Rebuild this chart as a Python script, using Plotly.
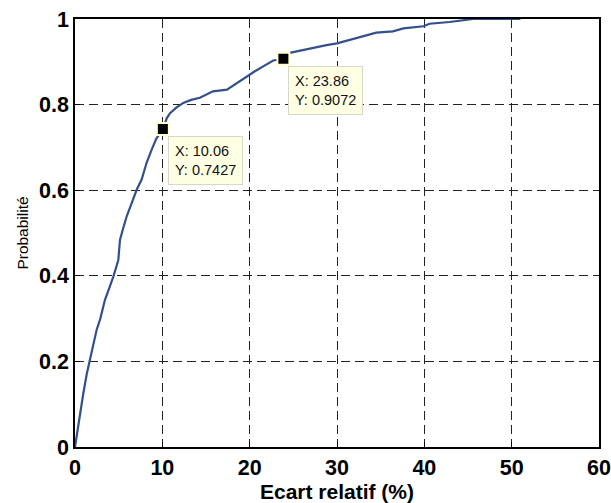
import plotly.graph_objects as go

# Empirical cumulative distribution of the relative deviation
ecart = [0, 0.25, 0.57, 0.95, 1.34, 1.7, 2.1, 2.48, 2.9, 3.43, 3.9, 4.39, 4.96, 5.15,
         5.5, 5.92, 6.49, 7.06, 7.63, 8.2, 8.78, 9.3, 10.06, 10.5, 10.88, 11.6,
         12.4, 13.3, 14.3, 15.8, 17.4, 18.5, 19.66, 20.6, 21.6, 22.7, 23.86, 24.6,
         25.8, 26.9, 28.8, 30.0, 31.2, 32.3, 33.4, 34.5, 36.4, 37.6, 39.9, 40.6,
         42.9, 44.5, 45.6, 51.0]
proba = [0, 0.035, 0.07, 0.125, 0.17, 0.205, 0.243, 0.274, 0.3, 0.344, 0.37, 0.398,
         0.437, 0.484, 0.51, 0.539, 0.570, 0.601, 0.625, 0.664, 0.695, 0.72, 0.7427,
         0.768, 0.780, 0.793, 0.804, 0.811, 0.816, 0.831, 0.835, 0.85, 0.866, 0.878,
         0.89, 0.903, 0.9072, 0.921, 0.926, 0.931, 0.939, 0.943, 0.95, 0.956, 0.962,
         0.968, 0.971, 0.978, 0.983, 0.989, 0.993, 0.997, 1.0, 1.0]

# Data tips
tip_x = [10.06, 23.86]
tip_y = [0.7427, 0.9072]

x_ticks = [0, 10, 20, 30, 40, 50, 60]
x_tick_text = ["0", "10", "20", "30", "40", "50", "60"]
y_ticks = [0, 0.2, 0.4, 0.6, 0.8, 1]
y_tick_text = ["0", "0.2", "0.4", "0.6", "0.8", "1"]

FONT = "Liberation Sans"

fig = go.Figure()
fig.add_trace(go.Scatter(
    x=ecart, y=proba, mode="lines",
    line=dict(color="#34508c", width=2.2),
    hoverinfo="skip", showlegend=False,
))
fig.add_trace(go.Scatter(
    x=tip_x, y=tip_y, mode="markers",
    marker=dict(symbol="square", size=12, color="black",
                line=dict(color="#ffffc8", width=2)),
    hoverinfo="skip", showlegend=False,
))

for tx, ty in zip(tip_x, tip_y):
    fig.add_annotation(
        x=tx, y=ty, xref="x", yref="y",
        text=f"X: {tx:.2f}<br>Y: {ty:.4f}",
        showarrow=False, xanchor="left", yanchor="top",
        xshift=5, yshift=-7, align="left",
        font=dict(family=FONT, size=14.5, color="#111111"),
        bgcolor="#ffffe4", bordercolor="#d8d8c8", borderwidth=1, borderpad=6,
    )

grid = dict(showgrid=True, gridcolor="#222222", gridwidth=1, griddash="9px,5px",
            showline=True, linecolor="black", linewidth=1.5, mirror=True,
            ticks="inside", ticklen=5, tickcolor="black", zeroline=False,
            automargin=False,
            tickfont=dict(family=FONT, size=21.5, color="black"))

fig.update_xaxes(range=[0, 60], tickvals=x_ticks,
                 ticktext=[f"<b>{t}</b>" for t in x_tick_text], **grid,
                 title=dict(text="<b>Ecart relatif (%)</b>", standoff=1,
                            font=dict(family=FONT, size=21, color="black")))
fig.update_yaxes(range=[0, 1], tickvals=y_ticks,
                 ticktext=[f"<b>{t}</b>" for t in y_tick_text], **grid,
                 title=dict(text="Probabilité", standoff=7,
                            font=dict(family=FONT, size=15.5, color="black")))

fig.update_layout(
    width=611, height=503,
    margin=dict(l=75, r=12, t=19, b=56),
    paper_bgcolor="white", plot_bgcolor="white",
)

fig.write_html("out.html")
